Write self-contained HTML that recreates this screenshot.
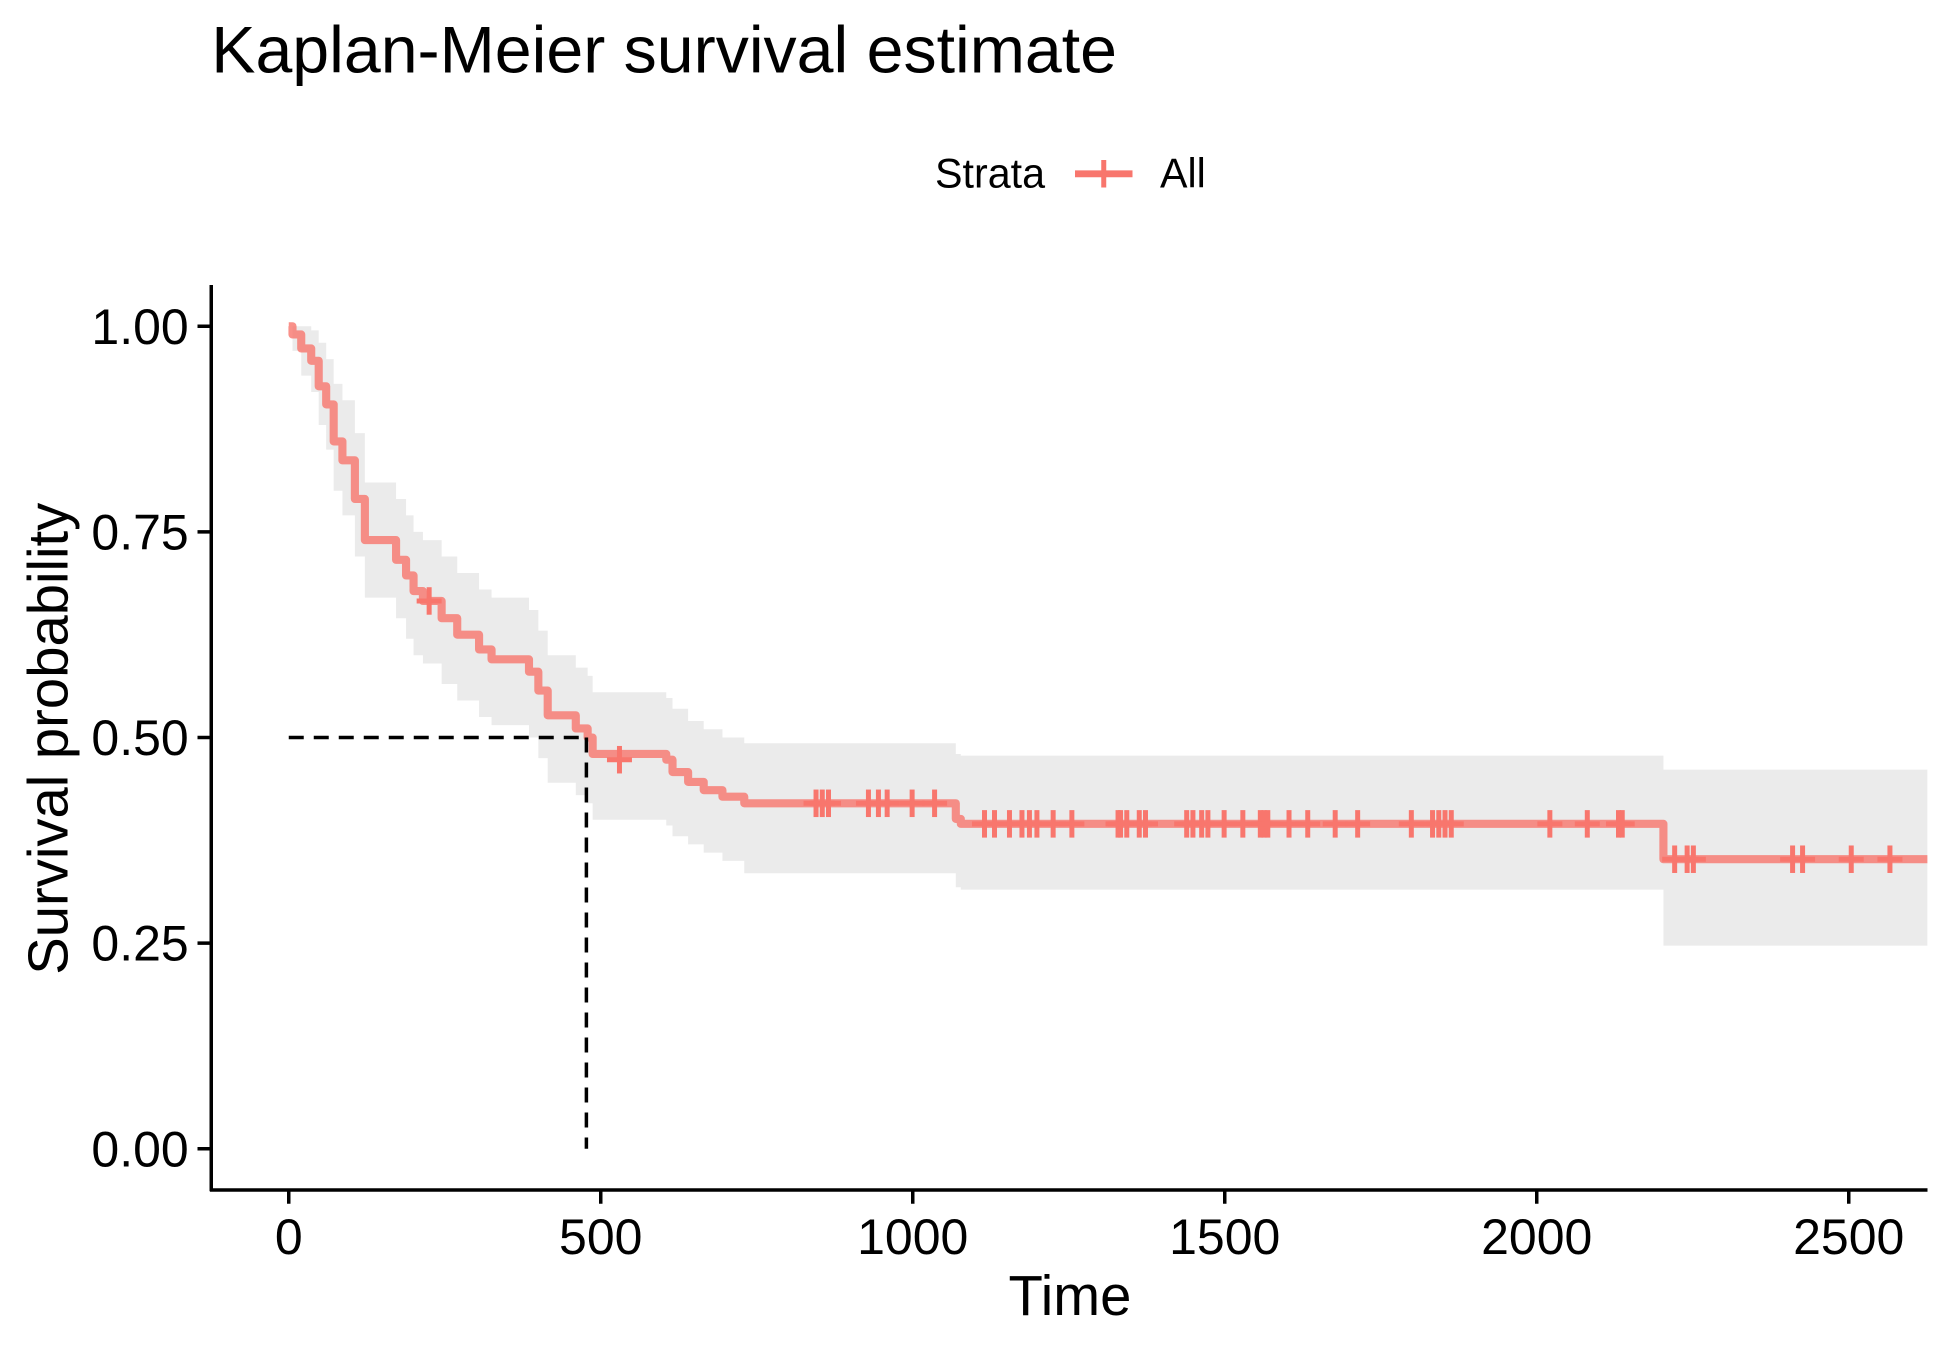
<!DOCTYPE html>
<html><head><meta charset="utf-8"><style>
html,body{margin:0;padding:0;background:#fff;}
svg{display:block;font-family:"Liberation Sans",Arial,sans-serif;}
</style></head><body>
<svg id="chart" width="1950" height="1349" viewBox="0 0 1560 1079.2" xmlns="http://www.w3.org/2000/svg">
<rect width="1560" height="1079.2" fill="#fff"/>
<text x="169" y="58" font-size="53">Kaplan-Meier survival estimate</text>
<g>
<text x="748" y="150" font-size="33">Strata</text>
<line x1="860" y1="139" x2="906" y2="139" stroke="#F8766D" stroke-width="5.5"/>
<line x1="883" y1="128" x2="883" y2="150" stroke="#F8766D" stroke-width="4"/>
<text x="928" y="150" font-size="33">All</text>
</g>
<g id="plot"></g>
<g id="axes"></g>
<text x="856" y="1052" font-size="45" text-anchor="middle">Time</text>
<text transform="translate(54,591) rotate(-90)" font-size="45" text-anchor="middle">Survival probability</text>
</svg>
<script>
const times=[0,6,20,36,48,60,72,86,106,122,172,188,200,215,245,270,305,325,385,400,415,460,479,487,605,615,640,665,695,730,1069,1077,2203];
const surv=[1,0.99,0.973,0.958,0.927,0.905,0.86,0.837,0.79,0.74,0.716,0.697,0.678,0.666,0.645,0.625,0.607,0.595,0.58,0.557,0.527,0.511,0.5,0.48,0.473,0.458,0.446,0.436,0.428,0.42,0.401,0.395,0.352];
const upper=[1,1,1,0.995,0.98,0.96,0.93,0.91,0.87,0.81,0.79,0.77,0.75,0.74,0.72,0.70,0.68,0.67,0.655,0.63,0.6,0.585,0.575,0.555,0.548,0.535,0.52,0.51,0.5,0.493,0.48,0.478,0.461];
const lower=[1,0.97,0.94,0.92,0.88,0.85,0.80,0.77,0.72,0.67,0.645,0.62,0.60,0.59,0.565,0.545,0.525,0.515,0.5,0.475,0.445,0.43,0.42,0.40,0.393,0.38,0.37,0.36,0.35,0.335,0.318,0.315,0.247];
const censorTimes=[225,530,845,855,865,929,945,959,999,1035,1115,1131,1155,1175,1187,1199,1225,1255,1329,1333,1343,1363,1373,1439,1449,1463,1473,1499,1529,1557,1563,1569,1603,1633,1677,1713,1799,1833,1843,1853,1863,2021,2081,2131,2137,2221,2241,2251,2410,2426,2504,2566];
const censorSurv=[0.666,0.473,0.42,0.42,0.42,0.42,0.42,0.42,0.42,0.42,0.395,0.395,0.395,0.395,0.395,0.395,0.395,0.395,0.395,0.395,0.395,0.395,0.395,0.395,0.395,0.395,0.395,0.395,0.395,0.395,0.395,0.395,0.395,0.395,0.395,0.395,0.395,0.395,0.395,0.395,0.395,0.395,0.395,0.395,0.395,0.352,0.352,0.352,0.352,0.352,0.352,0.352];
const xTicks=[0,500,1000,1500,2000,2500];
const yTicks=[0,0.25,0.5,0.75,1];
const yTickLabels=["0.00","0.25","0.50","0.75","1.00"];
const tMax=2626, medianT=479;

const NS="http://www.w3.org/2000/svg";
const X=t=>231+t*1248/2500;
const Y=s=>919-s*658;
function mk(tag,attrs,parent){const e=document.createElementNS(NS,tag);for(const k in attrs)e.setAttribute(k,attrs[k]);parent.appendChild(e);return e;}
const plot=document.getElementById('plot'), axes=document.getElementById('axes');

let up=[],lo=[];
for(let i=0;i<times.length;i++){
  const t0=X(times[i]), t1=X(i+1<times.length?times[i+1]:tMax);
  up.push(t0+','+Y(upper[i]),t1+','+Y(upper[i]));
  lo.push(t0+','+Y(lower[i]),t1+','+Y(lower[i]));
}
const band=mk('polygon',{points:up.concat(lo.reverse()).join(' '),fill:'#EBEBEB'},plot);



let d='M'+X(times[0])+','+Y(surv[0]);
for(let i=1;i<times.length;i++){d+=' H'+X(times[i])+' V'+Y(surv[i]);}
d+=' H'+X(tMax);
const line=mk('path',{d:d,fill:'none',stroke:'#F8766D','stroke-opacity':'0.8','stroke-width':'6.5','stroke-linejoin':'round'},plot);



for(let i=0;i<censorTimes.length;i++){
  const cx=X(censorTimes[i]), cy=Y(censorSurv[i]);
  const g=mk('g',{stroke:'#F8766D','stroke-width':'4'},plot);
  
  
  mk('line',{x1:cx-10,y1:cy,x2:cx+10,y2:cy},g);
  mk('line',{x1:cx,y1:cy-11,x2:cx,y2:cy+11},g);
}

const mh=mk('line',{x1:X(0),y1:Y(0.5),x2:X(medianT),y2:Y(0.5),stroke:'#000','stroke-width':'2.8','stroke-dasharray':'12,8'},plot);


const mv=mk('line',{x1:X(medianT)-1,y1:Y(0.5),x2:X(medianT)-1,y2:Y(0),stroke:'#000','stroke-width':'2.8','stroke-dasharray':'12,8'},plot);



const ya=mk('line',{x1:169,y1:228,x2:169,y2:953,stroke:'#000','stroke-width':'2.8'},axes);


const xa=mk('line',{x1:168,y1:952,x2:1542,y2:952,stroke:'#000','stroke-width':'2.8'},axes);


for(let i=0;i<xTicks.length;i++){
  const x=X(xTicks[i]);
  mk('line',{x1:x,y1:952,x2:x,y2:963,stroke:'#000','stroke-width':'2.8'},axes);
  const t=mk('text',{x:x,y:1003,'font-size':'40','text-anchor':'middle'},axes);
  t.textContent=String(xTicks[i]);
  
  
}
for(let i=0;i<yTicks.length;i++){
  const y=Y(yTicks[i]);
  mk('line',{x1:158,y1:y,x2:169,y2:y,stroke:'#000','stroke-width':'2.8'},axes);
  const t=mk('text',{x:151,y:y+14,'font-size':'40','text-anchor':'end'},axes);
  t.textContent=yTickLabels[i];
  
  
}
</script>
</body></html>
